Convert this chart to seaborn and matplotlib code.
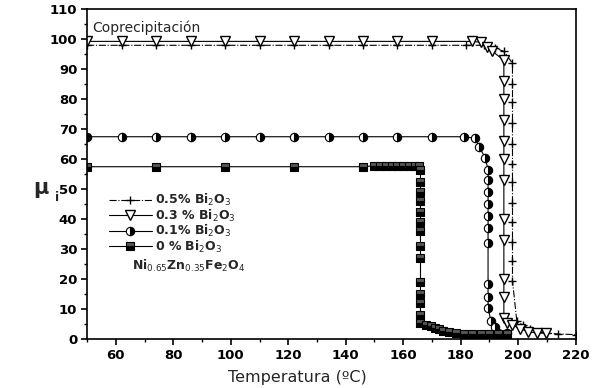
import matplotlib
matplotlib.use('Agg')
import matplotlib.pyplot as plt
import seaborn as sns
import pandas as pd
from matplotlib.ticker import MultipleLocator

# datos (Temperatura en ºC, mu_i)
temp_05 = [50, 62, 74, 86, 98, 110, 122, 134, 146, 158, 170, 182, 188, 192, 195,
           198, 198, 198, 198, 198, 198, 198, 198, 198, 198, 198, 198,
           199.5, 201.5, 204, 207, 210, 214, 220]
mu_05 = [98, 98, 98, 98, 98, 98, 98, 98, 98, 98, 98, 98, 98, 97, 96,
         92, 85, 79, 72, 65, 58.5, 52.5, 45.5, 39, 32.5, 26, 19.5,
         6, 4.7, 3.5, 2.5, 2, 1.7, 1.5]

temp_03 = [50, 62, 74, 86, 98, 110, 122, 134, 146, 158, 170, 184, 187, 189, 191,
           195, 195, 195, 195, 195, 195, 195, 195, 195, 195, 195, 195,
           196, 198, 200.5, 203.5, 206.5, 209.5]
mu_03 = [99.3, 99.3, 99.3, 99.3, 99.3, 99.3, 99.3, 99.3, 99.3, 99.3, 99.3, 99.3, 99, 97.5, 96,
         93, 86, 80, 73, 66, 60, 53, 40, 33, 20, 14, 7,
         5.5, 4.7, 3.5, 2.5, 2, 2]

temp_01 = [50, 62, 74, 86, 98, 110, 122, 134, 146, 158, 170, 181, 185, 186.5, 188.5,
           189.5, 189.5, 189.5, 189.5, 189.5, 189.5, 189.5, 189.5, 189.5, 189.5,
           190.5, 192, 196]
mu_01 = [67.5, 67.5, 67.5, 67.5, 67.5, 67.5, 67.5, 67.5, 67.5, 67.5, 67.5, 67.5, 67, 64, 60.5,
         56.5, 53, 49, 45, 41, 37, 32, 18.5, 14, 10.5,
         6, 4, 2]

temp_0 = [50, 74, 98, 122, 146, 150, 152, 154, 156, 158, 160, 162, 164, 165.5,
          166, 166, 166, 166, 166, 166, 166, 166, 166, 166, 166, 166, 166, 166,
          168, 169.5, 171, 172.5, 174, 176, 178.5, 181, 184, 187, 190, 193, 196]
mu_0 = [57.5, 57.5, 57.5, 57.5, 57.5, 57.8, 57.8, 57.8, 57.8, 57.8, 57.8, 57.8, 57.8, 57.8,
        56.3, 52.5, 49, 46, 42.5, 39, 36, 31, 27, 19, 15, 12, 8, 5.5,
        4.8, 4.3, 3.8, 3.3, 2.8, 2.4, 2, 1.8, 1.7, 1.7, 1.6, 1.6, 1.6]

etiquetas = ['0.5% Bi$_2$O$_3$', '0.3 % Bi$_2$O$_3$', '0.1% Bi$_2$O$_3$', '0 % Bi$_2$O$_3$']

sns.set_theme(style='ticks')
plt.rcParams['font.family'] = ['DejaVu Sans']
plt.rcParams['mathtext.fontset'] = 'dejavusans'

fig = plt.figure(figsize=(5.96, 3.88), dpi=100)
ax = fig.add_axes([0.146, 0.126, 0.82, 0.85])

df05 = pd.DataFrame({'T': temp_05, 'mu': mu_05})
df03 = pd.DataFrame({'T': temp_03, 'mu': mu_03})
df01 = pd.DataFrame({'T': temp_01, 'mu': mu_01})
df0 = pd.DataFrame({'T': temp_0, 'mu': mu_0})

sns.lineplot(data=df05, x='T', y='mu', sort=False, estimator=None, ax=ax,
             color='black', lw=0.8, linestyle='-.', marker='+', markersize=5.5,
             markeredgecolor='black', markeredgewidth=1.0, label=etiquetas[0])
sns.lineplot(data=df03, x='T', y='mu', sort=False, estimator=None, ax=ax,
             color='black', lw=0.8, marker='v', markersize=7, markerfacecolor='white',
             markeredgecolor='black', markeredgewidth=1.0, label=etiquetas[1])
sns.lineplot(data=df01, x='T', y='mu', sort=False, estimator=None, ax=ax,
             color='black', lw=0.8, marker='o', markersize=6, fillstyle='right',
             markerfacecolor='black', markerfacecoloralt='white', markeredgecolor='black',
             markeredgewidth=0.8, label=etiquetas[2])
sns.lineplot(data=df0, x='T', y='mu', sort=False, estimator=None, ax=ax,
             color='black', lw=0.8, marker='s', markersize=5.5, fillstyle='bottom',
             markerfacecolor='black', markerfacecoloralt='#555555', markeredgecolor='black',
             markeredgewidth=0.8, label=etiquetas[3])

ax.set_xlim(50, 220)
ax.set_ylim(0, 110)
ax.xaxis.set_minor_locator(MultipleLocator(10))
ax.yaxis.set_major_locator(MultipleLocator(10))
ax.yaxis.set_minor_locator(MultipleLocator(5))
ax.set_xticks([60, 80, 100, 120, 140, 160, 180, 200, 220])
ax.tick_params(which='major', direction='out', length=4, width=1.2, colors='black',
               labelsize=9.5, pad=3)
ax.tick_params(which='minor', direction='out', length=2.5, width=1.0, colors='black')
for lbl in ax.get_xticklabels() + ax.get_yticklabels():
    lbl.set_fontweight('bold')
for s in ax.spines.values():
    s.set_linewidth(1.2)
    s.set_color('black')

ax.set_xlabel('Temperatura (ºC)', fontsize=11.5, labelpad=4)
ax.xaxis.set_label_coords(0.43, -0.095)
ax.set_ylabel('')
fig.text(0.068, 0.515, 'μ', fontsize=15, fontweight='bold', ha='center', va='center')
fig.text(0.096, 0.49, 'i', fontsize=9, fontweight='bold', ha='center', va='center')

ax.text(0.01, 0.965, 'Coprecipitación', transform=ax.transAxes, fontsize=10,
        ha='left', va='top')

leg = ax.legend(loc='upper left', bbox_to_anchor=(0.045, 0.445), frameon=False,
                fontsize=9, handlelength=3.4, handletextpad=0.3, labelspacing=-0.05,
                borderpad=0, borderaxespad=0)
for t in leg.get_texts():
    t.set_fontweight('bold')
ax.text(0.092, 0.222, 'Ni$_{0.65}$Zn$_{0.35}$Fe$_2$O$_4$', transform=ax.transAxes,
        fontsize=9, fontweight='bold', ha='left', va='center')

fig.savefig('out.png', dpi=100)
